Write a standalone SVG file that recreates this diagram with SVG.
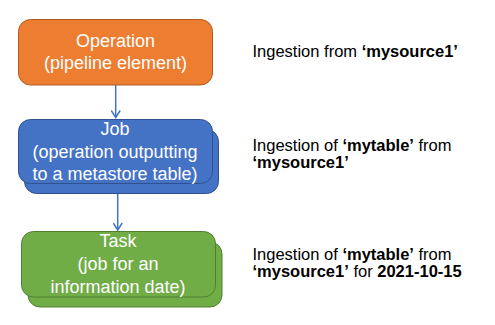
<svg xmlns="http://www.w3.org/2000/svg" width="495" height="325" viewBox="0 0 495 325">
<style>
.box text{font-family:"Liberation Sans",Arial,sans-serif;font-size:18px;fill:#fff;text-anchor:middle}
.lbl{font-family:"Liberation Sans",Arial,sans-serif;font-size:16.5px;fill:#000}
.b{font-weight:bold}
.or{fill:#ED7D31;stroke:#AE5A21;stroke-width:1}
.bl{fill:#4472C4;stroke:#2F528F;stroke-width:1}
.gr{fill:#70AD47;stroke:#507E32;stroke-width:1}
.conn{stroke:#4472C4;stroke-width:1.5;fill:none}
</style>
<defs>
<marker id="ah" markerWidth="10" markerHeight="10" refX="8" refY="5" orient="auto" markerUnits="userSpaceOnUse">
<path d="M1,0.5 L8,5 L1,9.5" fill="none" stroke="#4472C4" stroke-width="1.5"/>
</marker>
</defs>
<rect width="495" height="325" fill="#fff"/>
<g id="operation" class="box">
<rect class="or" x="18.5" y="19.5" width="194" height="65.5" rx="12"/>
<text x="115.5" y="47">Operation</text>
<text x="115.5" y="69">(pipeline element)</text>
</g>
<g id="job" class="box">
<rect class="bl" x="24.5" y="129.5" width="194" height="64" rx="12"/>
<rect class="bl" x="18.5" y="119.5" width="194" height="64" rx="12"/>
<text x="115" y="134.5">Job</text>
<text x="115" y="157.5">(operation outputting</text>
<text x="115" y="180">to a metastore table)</text>
</g>
<g id="task" class="box">
<rect class="gr" x="28" y="242" width="194" height="65" rx="12"/>
<rect class="gr" x="21.5" y="231.5" width="194" height="65.5" rx="12"/>
<text x="118" y="246.5">Task</text>
<text x="118" y="269.5">(job for an</text>
<text x="118" y="292.5">information date)</text>
</g>
<g id="connectors">
<line class="conn" x1="115.7" y1="85" x2="115.7" y2="117.5" marker-end="url(#ah)"/>
<line class="conn" x1="117.7" y1="194" x2="117.7" y2="230" marker-end="url(#ah)"/>
</g>
<g id="labels">
<text class="lbl" x="252.5" y="57">Ingestion from <tspan class="b">‘mysource1’</tspan></text>
<text class="lbl" x="252.5" y="150.5">Ingestion of <tspan class="b">‘mytable’</tspan> from</text>
<text class="lbl" x="252.5" y="167.5"><tspan class="b">‘mysource1’</tspan></text>
<text class="lbl" x="252.5" y="260">Ingestion of <tspan class="b">‘mytable’</tspan> from</text>
<text class="lbl" x="252.5" y="277"><tspan class="b">‘mysource1’</tspan> for <tspan class="b">2021-10-15</tspan></text>
</g>
</svg>
